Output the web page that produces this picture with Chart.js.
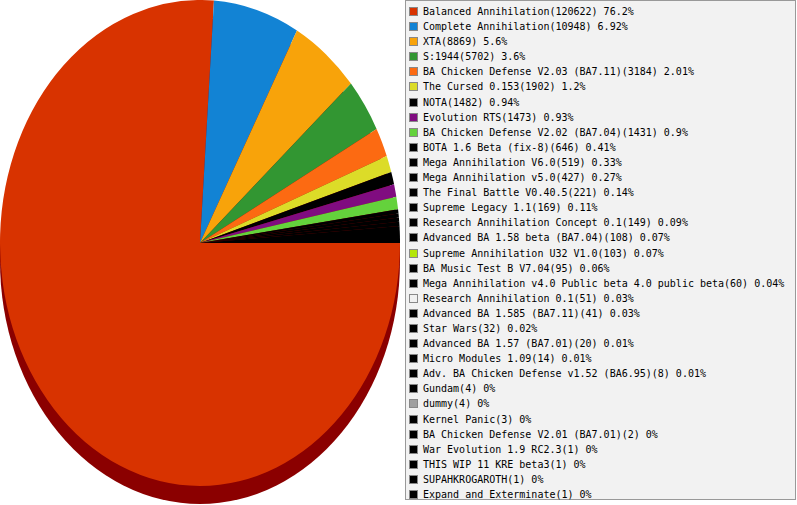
<!DOCTYPE html>
<html>
<head>
<meta charset="utf-8">
<script src="https://cdn.jsdelivr.net/npm/chart.js@4/dist/chart.umd.min.js"></script>
<style>
  body { margin: 0; background: #fff; width: 797px; height: 505px; overflow: hidden; position: relative; }
  #pieBox { position: absolute; left: 0; top: 0; width: 400px; height: 505px; }
  #legend {
    position: absolute; left: 405px; top: 0; width: 391px; height: 500px;
    box-sizing: border-box; border: 1px solid #999; background: #f2f2f2;
    padding: 3px 0 0 3px;
    font-family: "DejaVu Sans Mono", monospace; font-size: 10px; color: #000;
  }
  .row { height: 15.1px; line-height: 15px; white-space: nowrap; }
  .sw { display: inline-block; width: 7px; height: 7px; border: 1px solid #888; margin-right: 5px; vertical-align: -1px; }
</style>
</head>
<body>
<div id="pieBox"><canvas id="pieChart"></canvas></div>
<div id="legend"></div>
<script>
// 게임 이름
const games = [
  'Balanced Annihilation', 'Complete Annihilation', 'XTA', 'S:1944',
  'BA Chicken Defense V2.03 (BA7.11)', 'The Cursed 0.153', 'NOTA', 'Evolution RTS',
  'BA Chicken Defense V2.02 (BA7.04)', 'BOTA 1.6 Beta (fix-8)', 'Mega Annihilation V6.0',
  'Mega Annihilation v5.0', 'The Final Battle V0.40.5', 'Supreme Legacy 1.1',
  'Research Annihilation Concept 0.1', 'Advanced BA 1.58 beta (BA7.04)',
  'Supreme Annihilation U32 V1.0', 'BA Music Test B V7.04',
  'Mega Annihilation v4.0 Public beta 4.0 public beta', 'Research Annihilation 0.1',
  'Advanced BA 1.585 (BA7.11)', 'Star Wars', 'Advanced BA 1.57 (BA7.01)',
  'Micro Modules 1.09', 'Adv. BA Chicken Defense v1.52 (BA6.95)', 'Gundam', 'dummy',
  'Kernel Panic', 'BA Chicken Defense V2.01 (BA7.01)', 'War Evolution 1.9 RC2.3',
  'THIS WIP 11 KRE beta3', 'SUPAHKROGAROTH', 'Expand and Exterminate'
];
// 횟수
const counts = [120622, 10948, 8869, 5702, 3184, 1902, 1482, 1473, 1431, 646, 519,
  427, 221, 169, 149, 108, 103, 95, 60, 51, 41, 32, 20, 14, 8, 4, 4, 3, 2, 1, 1, 1, 1];
// 비율 (%)
const percents = ['76.2', '6.92', '5.6', '3.6', '2.01', '1.2', '0.94', '0.93', '0.9', '0.41', '0.33',
  '0.27', '0.14', '0.11', '0.09', '0.07', '0.07', '0.06', '0.04', '0.03', '0.03', '0.02', '0.01',
  '0.01', '0.01', '0', '0', '0', '0', '0', '0', '0', '0'];
// 색상
const colors = ['#d83300', '#1283d4', '#f8a30a', '#329632', '#fc6a12', '#dcdc28', '#000000', '#800c80',
  '#64d23c', '#000000', '#000000', '#000000', '#000000', '#000000', '#000000', '#000000',
  '#b4e60a', '#000000', '#000000', '#f0f0f0', '#000000', '#000000', '#000000', '#000000',
  '#000000', '#000000', '#a0a0a0', '#000000', '#000000', '#000000', '#000000', '#000000', '#000000'];

const labels = games.map((g, i) => g + '(' + counts[i] + ') ' + percents[i] + '%');

// 원본 그림처럼 조각마다 정수 각도로 반올림 (남는 각도는 마지막 조각에)
const total = counts.reduce((a, b) => a + b, 0);
const sliceDeg = counts.map(c => Math.round(c / total * 360));
sliceDeg[sliceDeg.length - 1] += 360 - sliceDeg.reduce((a, b) => a + b, 0);

// 범례 만들기
const legend = document.getElementById('legend');
labels.forEach((text, i) => {
  const row = document.createElement('div');
  row.className = 'row';
  const sw = document.createElement('span');
  sw.className = 'sw';
  sw.style.background = colors[i];
  row.appendChild(sw);
  row.appendChild(document.createTextNode(text));
  legend.appendChild(row);
});

const stretchY = 243 / 200; // 타원 모양
const rimDepth = 18;        // 아래 두께

// 입체 파이 효과
const ellipsePie = {
  id: 'ellipsePie',
  beforeDatasetsDraw(chart) {
    const arc = chart.getDatasetMeta(0).data[0];
    const { x, y, outerRadius } = arc;
    const ctx = chart.ctx;
    ctx.save();
    ctx.translate(x, y);
    ctx.scale(1, stretchY);
    ctx.translate(-x, -y);
    const d = rimDepth / stretchY;
    ctx.fillStyle = '#8b0000';
    ctx.beginPath();
    ctx.arc(x, y + d, outerRadius, 0, Math.PI * 2);
    ctx.fill();
    ctx.fillRect(x - outerRadius, y, outerRadius * 2, d);
  },
  afterDatasetsDraw(chart) {
    chart.ctx.restore();
  }
};

new Chart(document.getElementById('pieChart'), {
  type: 'pie',
  data: {
    labels: labels,
    datasets: [{
      data: sliceDeg,
      backgroundColor: colors,
      borderWidth: 0
    }]
  },
  options: {
    responsive: true,
    maintainAspectRatio: false,
    animation: false,
    rotation: 90,
    layout: { padding: { bottom: 19 } },
    plugins: { legend: { display: false }, tooltip: { enabled: false } }
  },
  plugins: [ellipsePie]
});
</script>
</body>
</html>
